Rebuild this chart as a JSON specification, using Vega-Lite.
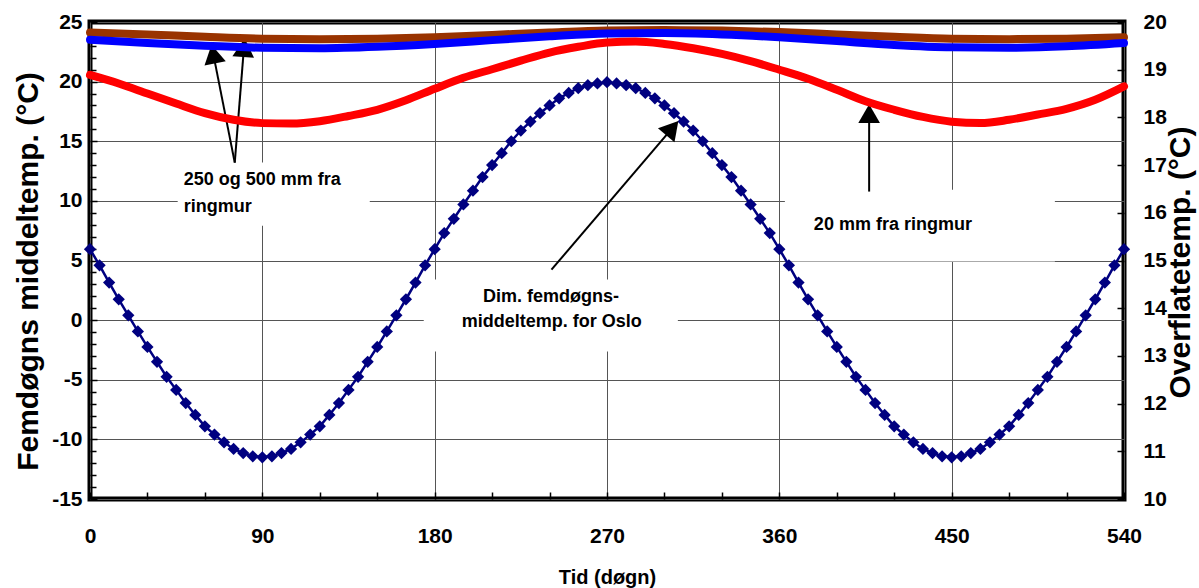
{
  "$schema": "https://vega.github.io/schema/vega-lite/v6.json",
  "width": 1034,
  "height": 477,
  "autosize": {"type": "none"},
  "padding": {"left": 90, "top": 22, "right": 75, "bottom": 89},
  "background": "white",
  "config": {
    "view": {"stroke": "black", "strokeWidth": 5},
    "font": "Liberation Sans",
    "axis": {
      "labelFont": "Liberation Sans",
      "labelFontWeight": "bold",
      "labelFontSize": 21,
      "labelColor": "black",
      "titleFont": "Liberation Sans",
      "titleFontWeight": "bold",
      "titleColor": "black",
      "domain": false,
      "tickColor": "black",
      "tickWidth": 1.5,
      "labelFlush": false,
      "labelOverlap": false
    }
  },
  "datasets": {
    "sine": [
      {"t":0,"v":5.95},{"t":5,"v":4.6},{"t":10,"v":3.15},{"t":15,"v":1.75},{"t":20,"v":0.4},{"t":25,"v":-0.95},{"t":30,"v":-2.25},{"t":35,"v":-3.5},{"t":40,"v":-4.75},{"t":45,"v":-5.85},{"t":50,"v":-6.95},{"t":55,"v":-7.95},{"t":60,"v":-8.9},{"t":65,"v":-9.6},{"t":70,"v":-10.25},{"t":75,"v":-10.8},{"t":80,"v":-11.15},{"t":85,"v":-11.42},{"t":90,"v":-11.5},
      {"t":95,"v":-11.42},{"t":100,"v":-11.15},{"t":105,"v":-10.8},{"t":110,"v":-10.25},{"t":115,"v":-9.6},{"t":120,"v":-8.9},{"t":125,"v":-7.95},{"t":130,"v":-6.95},{"t":135,"v":-5.85},{"t":140,"v":-4.75},{"t":145,"v":-3.5},{"t":150,"v":-2.25},{"t":155,"v":-0.95},{"t":160,"v":0.4},{"t":165,"v":1.75},{"t":170,"v":3.15},{"t":175,"v":4.6},{"t":180,"v":5.95},
      {"t":185,"v":7.3},{"t":190,"v":8.5},{"t":195,"v":9.7},{"t":200,"v":10.85},{"t":205,"v":12.0},{"t":210,"v":13.0},{"t":215,"v":14.0},{"t":220,"v":15.0},{"t":225,"v":15.9},{"t":230,"v":16.65},{"t":235,"v":17.35},{"t":240,"v":18.0},{"t":245,"v":18.6},{"t":250,"v":19.05},{"t":255,"v":19.45},{"t":260,"v":19.7},{"t":265,"v":19.85},{"t":270,"v":19.95},
      {"t":275,"v":19.85},{"t":280,"v":19.7},{"t":285,"v":19.45},{"t":290,"v":19.05},{"t":295,"v":18.6},{"t":300,"v":18.0},{"t":305,"v":17.35},{"t":310,"v":16.65},{"t":315,"v":15.9},{"t":320,"v":15.0},{"t":325,"v":14.0},{"t":330,"v":13.0},{"t":335,"v":12.0},{"t":340,"v":10.85},{"t":345,"v":9.7},{"t":350,"v":8.5},{"t":355,"v":7.3},{"t":360,"v":5.95},
      {"t":365,"v":4.6},{"t":370,"v":3.15},{"t":375,"v":1.75},{"t":380,"v":0.4},{"t":385,"v":-0.95},{"t":390,"v":-2.25},{"t":395,"v":-3.5},{"t":400,"v":-4.75},{"t":405,"v":-5.85},{"t":410,"v":-6.95},{"t":415,"v":-7.95},{"t":420,"v":-8.9},{"t":425,"v":-9.6},{"t":430,"v":-10.25},{"t":435,"v":-10.8},{"t":440,"v":-11.15},{"t":445,"v":-11.42},{"t":450,"v":-11.5},
      {"t":455,"v":-11.42},{"t":460,"v":-11.15},{"t":465,"v":-10.8},{"t":470,"v":-10.25},{"t":475,"v":-9.6},{"t":480,"v":-8.9},{"t":485,"v":-7.95},{"t":490,"v":-6.95},{"t":495,"v":-5.85},{"t":500,"v":-4.75},{"t":505,"v":-3.5},{"t":510,"v":-2.25},{"t":515,"v":-0.95},{"t":520,"v":0.4},{"t":525,"v":1.75},{"t":530,"v":3.15},{"t":535,"v":4.6},{"t":540,"v":5.95}
    ],
    "surf": [
      {"t":0,"v":19.78,"s":"500 mm"},{"t":30,"v":19.74,"s":"500 mm"},{"t":60,"v":19.69,"s":"500 mm"},{"t":90,"v":19.65,"s":"500 mm"},{"t":120,"v":19.64,"s":"500 mm"},{"t":150,"v":19.65,"s":"500 mm"},{"t":180,"v":19.68,"s":"500 mm"},{"t":210,"v":19.73,"s":"500 mm"},{"t":240,"v":19.78,"s":"500 mm"},{"t":270,"v":19.82,"s":"500 mm"},{"t":300,"v":19.83,"s":"500 mm"},{"t":330,"v":19.82,"s":"500 mm"},{"t":360,"v":19.79,"s":"500 mm"},{"t":390,"v":19.74,"s":"500 mm"},{"t":420,"v":19.69,"s":"500 mm"},{"t":450,"v":19.65,"s":"500 mm"},{"t":480,"v":19.64,"s":"500 mm"},{"t":510,"v":19.65,"s":"500 mm"},{"t":540,"v":19.68,"s":"500 mm"},
      {"t":0,"v":19.63,"s":"250 mm"},{"t":30,"v":19.56,"s":"250 mm"},{"t":60,"v":19.5,"s":"250 mm"},{"t":90,"v":19.46,"s":"250 mm"},{"t":120,"v":19.45,"s":"250 mm"},{"t":150,"v":19.48,"s":"250 mm"},{"t":180,"v":19.54,"s":"250 mm"},{"t":210,"v":19.62,"s":"250 mm"},{"t":240,"v":19.7,"s":"250 mm"},{"t":270,"v":19.76,"s":"250 mm"},{"t":300,"v":19.77,"s":"250 mm"},{"t":330,"v":19.74,"s":"250 mm"},{"t":360,"v":19.68,"s":"250 mm"},{"t":390,"v":19.6,"s":"250 mm"},{"t":420,"v":19.52,"s":"250 mm"},{"t":450,"v":19.47,"s":"250 mm"},{"t":480,"v":19.46,"s":"250 mm"},{"t":510,"v":19.49,"s":"250 mm"},{"t":540,"v":19.56,"s":"250 mm"},
      {"t":0,"v":18.89,"s":"20 mm"},{"t":15,"v":18.71,"s":"20 mm"},{"t":30,"v":18.5,"s":"20 mm"},{"t":45,"v":18.29,"s":"20 mm"},{"t":60,"v":18.09,"s":"20 mm"},{"t":75,"v":17.95,"s":"20 mm"},{"t":90,"v":17.88,"s":"20 mm"},{"t":105,"v":17.87,"s":"20 mm"},{"t":120,"v":17.92,"s":"20 mm"},{"t":135,"v":18.03,"s":"20 mm"},{"t":150,"v":18.16,"s":"20 mm"},{"t":165,"v":18.36,"s":"20 mm"},{"t":180,"v":18.6,"s":"20 mm"},{"t":195,"v":18.83,"s":"20 mm"},{"t":210,"v":19.01,"s":"20 mm"},{"t":225,"v":19.19,"s":"20 mm"},{"t":240,"v":19.36,"s":"20 mm"},{"t":255,"v":19.48,"s":"20 mm"},{"t":270,"v":19.57,"s":"20 mm"},{"t":285,"v":19.59,"s":"20 mm"},{"t":300,"v":19.54,"s":"20 mm"},{"t":315,"v":19.45,"s":"20 mm"},{"t":330,"v":19.33,"s":"20 mm"},{"t":345,"v":19.18,"s":"20 mm"},{"t":360,"v":19.0,"s":"20 mm"},{"t":375,"v":18.81,"s":"20 mm"},{"t":390,"v":18.58,"s":"20 mm"},{"t":405,"v":18.34,"s":"20 mm"},{"t":420,"v":18.16,"s":"20 mm"},{"t":435,"v":18.01,"s":"20 mm"},{"t":450,"v":17.91,"s":"20 mm"},{"t":465,"v":17.88,"s":"20 mm"},{"t":480,"v":17.95,"s":"20 mm"},{"t":495,"v":18.06,"s":"20 mm"},{"t":510,"v":18.18,"s":"20 mm"},{"t":525,"v":18.37,"s":"20 mm"},{"t":540,"v":18.65,"s":"20 mm"}
    ],
    "boxes": [
      {"t0":45.8,"t1":146.1,"v0":13.21,"v1":7.92},
      {"t0":174.3,"t1":307.0,"v0":3.4,"v1":-2.64},
      {"t0":362.9,"t1":503.9,"v0":10.94,"v1":4.91}
    ],
    "arrows": [
      {"id":"A","t0":75.6,"v0":13.21,"t1":64.4,"v1":22.31},
      {"id":"B","t0":75.6,"v0":13.21,"t1":80.4,"v1":22.85},
      {"id":"C","t0":241.0,"v0":4.23,"t1":304.1,"v1":16.1},
      {"id":"D","t0":406.9,"v0":10.78,"t1":406.9,"v1":17.32}
    ],
    "labelsLeft": [
      {"t":48.9,"v":11.78,"text":"250 og 500 mm fra"},
      {"t":48.9,"v":9.52,"text":"ringmur"}
    ],
    "labelsCenter": [
      {"t":240.7,"v":1.97,"text":"Dim. femdøgns-"},
      {"t":241.2,"v":-0.13,"text":"middeltemp. for Oslo"},
      {"t":419.3,"v":8.01,"text":"20 mm fra ringmur"}
    ]
  },
  "layer": [
    {
      "layer": [
        {
          "mark": {"type": "rule", "color": "black", "strokeWidth": 1.2},
          "encoding": {
            "y": {
              "datum": 0, "type": "quantitative",
              "scale": {"domain": [-15, 25], "nice": false, "zero": false},
              "axis": {
                "orient": "left",
                "values": [-14,-13,-12,-11,-9,-8,-7,-6,-4,-3,-2,-1,1,2,3,4,6,7,8,9,11,12,13,14,16,17,18,19,21,22,23,24],
                "labels": false,
                "grid": false,
                "tickSize": -6,
                "title": null
              }
            }
          }
        }
      ]
    },
    {
      "layer": [
        {
          "data": {"name": "boxes"},
          "mark": {"type": "rect", "fill": "white"},
          "encoding": {
            "x": {
              "field": "t0", "type": "quantitative",
              "scale": {"domain": [0, 540], "nice": false, "zero": false},
              "axis": {
                "values": [0,30,60,90,120,150,180,210,240,270,300,330,360,390,420,450,480,510,540],
                "labelExpr": "datum.value % 90 === 0 ? datum.label : ''",
                "grid": true,
                "gridColor": "#555555",
                "gridWidth": 1,
                "gridOpacity": {"condition": {"test": "datum.value % 90 === 0", "value": 1}, "value": 0},
                "tickSize": -7,
                "labelPadding": 33,
                "title": "Tid (døgn)",
                "titleFontSize": 20,
                "titleX": 517,
                "titleY": 78,
                "titleAlign": "center",
                "titleBaseline": "middle"
              }
            },
            "x2": {"field": "t1"},
            "y": {
              "field": "v0", "type": "quantitative",
              "scale": {"domain": [-15, 25], "nice": false, "zero": false},
              "axis": {
                "orient": "left",
                "values": [-15,-10,-5,0,5,10,15,20,25],
                "labelExpr": "'' + datum.value",
                "labelOverlap": false,
                "grid": true,
                "gridColor": "#555555",
                "gridWidth": 1,
                "tickSize": -7,
                "labelPadding": 15,
                "title": "Femdøgns middeltemp. (°C)",
                "titleFontSize": 30,
                "titleAngle": 270,
                "titleX": -62,
                "titleY": 249,
                "titleAlign": "center",
                "titleBaseline": "middle"
              }
            },
            "y2": {"field": "v1"}
          }
        },
        {
          "data": {"name": "sine"},
          "mark": {
            "type": "line", "color": "#000080", "strokeWidth": 2.5,
            "point": {"shape": "diamond", "size": 150, "filled": true, "color": "#000080", "opacity": 1}
          },
          "encoding": {
            "x": {"field": "t", "type": "quantitative"},
            "y": {"field": "v", "type": "quantitative"}
          }
        },
        {
          "data": {"name": "arrows"},
          "mark": {"type": "rule", "color": "black", "strokeWidth": 2},
          "encoding": {
            "x": {"field": "t0", "type": "quantitative"},
            "y": {"field": "v0", "type": "quantitative"},
            "x2": {"field": "t1"},
            "y2": {"field": "v1"}
          }
        },
        {
          "data": {"name": "arrows"},
          "transform": [{"filter": "datum.id === 'A'"}],
          "mark": {"type": "point", "shape": "triangle-up", "filled": true, "color": "black", "opacity": 1, "size": 470, "angle": 348.8},
          "encoding": {"x": {"field": "t1", "type": "quantitative"}, "y": {"field": "v1", "type": "quantitative"}}
        },
        {
          "data": {"name": "arrows"},
          "transform": [{"filter": "datum.id === 'B'"}],
          "mark": {"type": "point", "shape": "triangle-up", "filled": true, "color": "black", "opacity": 1, "size": 470, "angle": 4.6},
          "encoding": {"x": {"field": "t1", "type": "quantitative"}, "y": {"field": "v1", "type": "quantitative"}}
        },
        {
          "data": {"name": "arrows"},
          "transform": [{"filter": "datum.id === 'C'"}],
          "mark": {"type": "point", "shape": "triangle-up", "filled": true, "color": "black", "opacity": 1, "size": 470, "angle": 40.5},
          "encoding": {"x": {"field": "t1", "type": "quantitative"}, "y": {"field": "v1", "type": "quantitative"}}
        },
        {
          "data": {"name": "arrows"},
          "transform": [{"filter": "datum.id === 'D'"}],
          "mark": {"type": "point", "shape": "triangle-up", "filled": true, "color": "black", "opacity": 1, "size": 470, "angle": 0},
          "encoding": {"x": {"field": "t1", "type": "quantitative"}, "y": {"field": "v1", "type": "quantitative"}}
        },
        {
          "data": {"name": "labelsLeft"},
          "mark": {"type": "text", "align": "left", "baseline": "middle", "font": "Liberation Sans", "fontWeight": "bold", "fontSize": 18, "color": "black"},
          "encoding": {
            "x": {"field": "t", "type": "quantitative"},
            "y": {"field": "v", "type": "quantitative"},
            "text": {"field": "text"}
          }
        },
        {
          "data": {"name": "labelsCenter"},
          "mark": {"type": "text", "align": "center", "baseline": "middle", "font": "Liberation Sans", "fontWeight": "bold", "fontSize": 18, "color": "black"},
          "encoding": {
            "x": {"field": "t", "type": "quantitative"},
            "y": {"field": "v", "type": "quantitative"},
            "text": {"field": "text"}
          }
        }
      ]
    },
    {
      "layer": [
        {
          "data": {"name": "surf"},
          "transform": [{"filter": "datum.s === '500 mm'"}],
          "mark": {"type": "line", "color": "#993300", "strokeWidth": 8, "interpolate": "monotone", "strokeCap": "round"},
          "encoding": {
            "x": {"field": "t", "type": "quantitative"},
            "y": {
              "field": "v", "type": "quantitative",
              "scale": {"domain": [10, 20], "nice": false, "zero": false},
              "axis": {
                "orient": "right",
                "values": [10,11,12,13,14,15,16,17,18,19,20],
                "labelOverlap": false,
                "grid": false,
                "tickSize": -7,
                "labelPadding": 26,
                "labelAlign": "left",
                "title": "Overflatetemp. (°C)",
                "titleFontSize": 30,
                "titleAngle": 270,
                "titleX": 56,
                "titleY": 240,
                "titleAlign": "center",
                "titleBaseline": "middle"
              }
            }
          }
        },
        {
          "data": {"name": "surf"},
          "transform": [{"filter": "datum.s === '250 mm'"}],
          "mark": {"type": "line", "color": "#0000FF", "strokeWidth": 8, "interpolate": "monotone", "strokeCap": "round"},
          "encoding": {
            "x": {"field": "t", "type": "quantitative"},
            "y": {"field": "v", "type": "quantitative"}
          }
        },
        {
          "data": {"name": "surf"},
          "transform": [{"filter": "datum.s === '20 mm'"}],
          "mark": {"type": "line", "color": "#FF0000", "strokeWidth": 8, "interpolate": "monotone", "strokeCap": "round"},
          "encoding": {
            "x": {"field": "t", "type": "quantitative"},
            "y": {"field": "v", "type": "quantitative"}
          }
        }
      ]
    }
  ],
  "resolve": {"scale": {"y": "independent"}, "axis": {"y": "independent"}}
}
